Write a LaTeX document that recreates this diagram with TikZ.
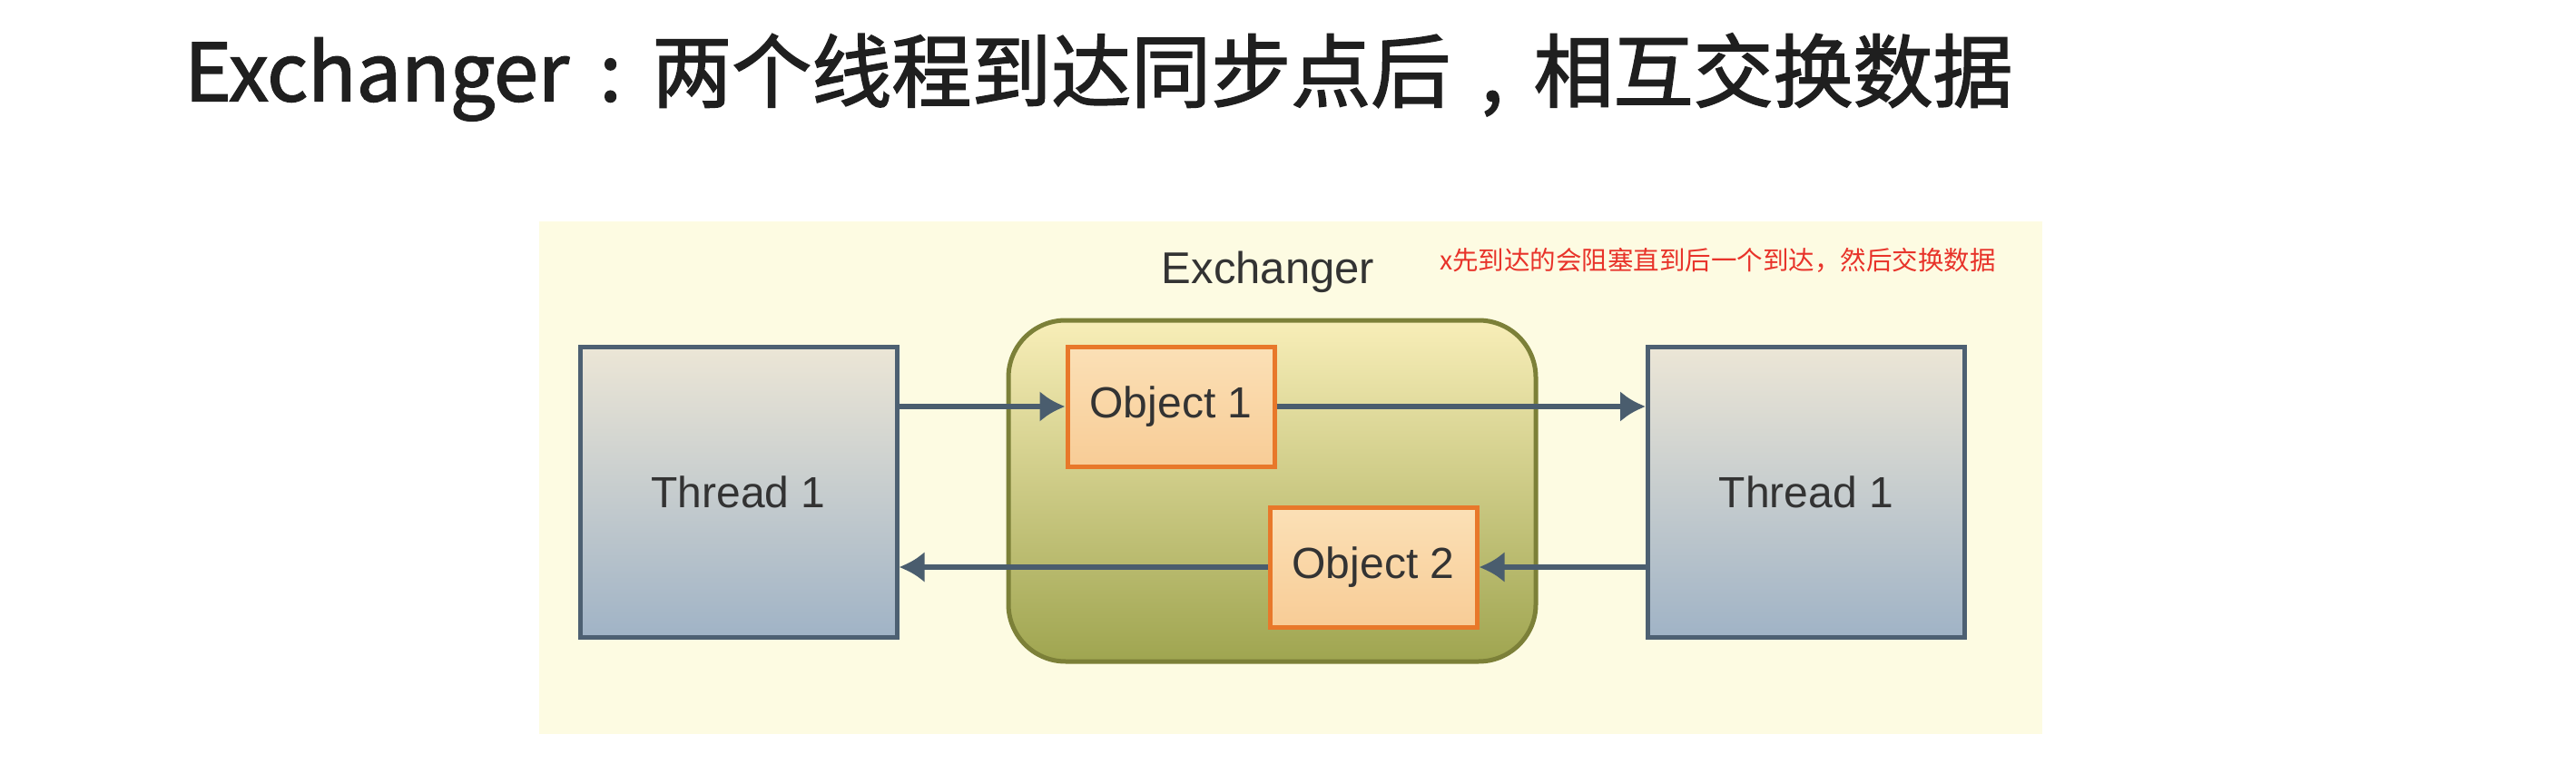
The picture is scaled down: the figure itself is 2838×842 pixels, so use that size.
\documentclass[tikz,border=0pt]{standalone}
\usepackage{fontspec}
\setmainfont{Liberation Sans}
\newfontfamily\cjk{Noto Sans CJK SC}
\newfontfamily\cjkt{Noto Sans CJK SC}[FakeBold=1.8]
\usetikzlibrary{arrows.meta}
\definecolor{bgyellow}{HTML}{FDFBE2}
\definecolor{thrtop}{HTML}{ECE6D6}
\definecolor{thrbot}{HTML}{A0B3C6}
\definecolor{thrline}{HTML}{4D6072}
\definecolor{extop}{HTML}{F8EEB8}
\definecolor{exbot}{HTML}{9FA550}
\definecolor{exline}{HTML}{7C8038}
\definecolor{objtop}{HTML}{FBE0B6}
\definecolor{objbot}{HTML}{F8CC96}
\definecolor{objline}{HTML}{E8782A}
\definecolor{arrcol}{HTML}{4A5D6E}
\definecolor{txt}{HTML}{333333}
\definecolor{redtxt}{HTML}{E8332A}
\tikzset{
  lbl/.style={text=txt, font=\fontsize{48}{56}\selectfont},
  thread/.style={lbl, draw=thrline, line width=5pt, top color=thrtop, bottom color=thrbot,
    minimum width=349pt, minimum height=320pt, inner sep=0pt},
  exbox/.style={draw=exline, line width=5pt, top color=extop, bottom color=exbot,
    rounded corners=63pt, minimum width=581pt, minimum height=376pt, inner sep=0pt},
  objbox/.style={lbl, draw=objline, line width=5pt, top color=objtop, bottom color=objbot,
    minimum width=228pt, minimum height=132pt, inner sep=0pt},
  arr/.style={draw=arrcol, line width=5.5pt, -{Latex[length=28pt,width=34pt]}}
}
\begin{document}
\begin{tikzpicture}[x=1pt,y=-1pt]
\useasboundingbox (0,0) rectangle (2838,842);
\fill[white] (0,0) rectangle (2838,842);
\node[anchor=west, inner sep=0pt, text=black!88, font=\cjkt\fontsize{88}{100}\selectfont] (title) at (203,85) {Exchanger\hspace{0.38em}:\hspace{0.38em}两个线程到达同步点后\hspace{0.38em},\hspace{0.38em}相互交换数据};
\fill[bgyellow] (594,244) rectangle (2250,809);
\node[exbox] (ex) at (1401.5,541) {};
\node[lbl, font=\fontsize{49}{56}\selectfont] (exlbl) at (1397,300) {Exchanger};
\node[anchor=west, inner sep=0pt, text=redtxt, font=\cjk\fontsize{28.5}{32}\selectfont] (note) at (1586,287) {x先到达的会阻塞直到后一个到达，然后交换数据};
\node[thread] (lt) at (813.5,542) {Thread 1};
\node[thread] (rt) at (1990,542) {Thread 1};
\node[objbox] (o1) at (1290,448) {Object 1};
\node[objbox] (o2) at (1513,625) {Object 2};
\draw[arr] (lt.east |- o1.west) -- (o1.west);
\draw[arr] (o1.east) -- (o1.east -| rt.west);
\draw[arr] (rt.west |- o2.east) -- (o2.east);
\draw[arr] (o2.west) -- (o2.west -| lt.east);
\end{tikzpicture}
\end{document}
